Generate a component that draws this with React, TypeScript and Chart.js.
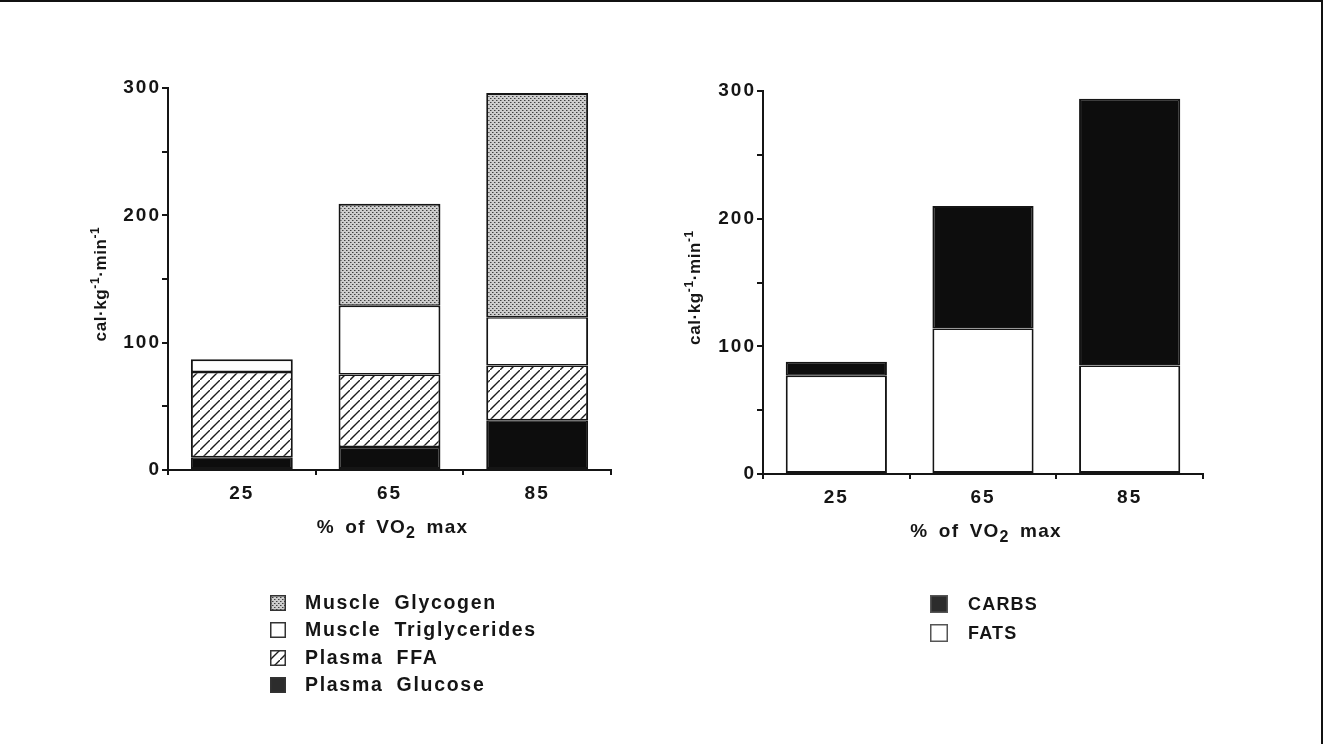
import React, { useEffect, useRef } from 'react';
import { Chart, registerables } from 'chart.js';

Chart.register(...registerables);

// ---------- data ----------
const categories = ['25', '65', '85'];
const plasmaGlucose = [10, 18, 39];
const plasmaFFA = [67, 57, 43];
const muscleTriglycerides = [10, 54, 38];
const muscleGlycogen = [0, 80, 176];
const fats = [77, 114, 85];
const carbs = [11, 96, 209];
const yTickLabels = [0, 100, 200, 300];
const leftLegend = ['Muscle Glycogen', 'Muscle Triglycerides', 'Plasma FFA', 'Plasma Glucose'];
const rightLegend = ['CARBS', 'FATS'];
const yTitleParts = ['cal·kg', '-1', '·min', '-1'];
const xTitleParts = ['% of VO', '2', ' max'];

const INK = '#151515';
const FONT = "'Liberation Sans', Arial, Helvetica, sans-serif";

// ---------- fills ----------
function makeDots(): CanvasPattern | string {
  const c = document.createElement('canvas');
  c.width = 4;
  c.height = 4;
  const x = c.getContext('2d');
  if (!x) return '#bbb';
  x.fillStyle = '#cdcdcd';
  x.fillRect(0, 0, 4, 4);
  x.fillStyle = '#404040';
  x.fillRect(0, 0, 1, 1);
  x.fillRect(2, 2, 1, 1);
  x.fillStyle = '#8a8a8a';
  x.fillRect(1, 0, 1, 1);
  x.fillRect(3, 2, 1, 1);
  return x.createPattern(c, 'repeat') || '#bbb';
}

function makeHatch(): CanvasPattern | string {
  const s = 10;
  const c = document.createElement('canvas');
  c.width = s;
  c.height = s;
  const x = c.getContext('2d');
  if (!x) return '#ddd';
  x.fillStyle = '#ffffff';
  x.fillRect(0, 0, s, s);
  x.strokeStyle = '#1c1c1c';
  x.lineWidth = 1.4;
  x.beginPath();
  x.moveTo(-2, s + 2);
  x.lineTo(s + 2, -2);
  x.moveTo(-2 - s, 2);
  x.lineTo(2, -2 - s + s);
  x.moveTo(s - 2, s + 2);
  x.lineTo(2 * s + 2, s - 2);
  x.stroke();
  return x.createPattern(c, 'repeat') || '#ddd';
}

type Fill = 'dots' | 'hatch' | 'black' | 'white';

function fillFor(kind: Fill): CanvasPattern | string {
  if (kind === 'dots') return makeDots();
  if (kind === 'hatch') return makeHatch();
  if (kind === 'black') return '#0d0d0d';
  return '#ffffff';
}

function borderFor(seriesList: number[][]) {
  return (ctx: any) => {
    const i = ctx.dataIndex;
    const d = ctx.datasetIndex;
    let topIdx = -1;
    for (let k = 0; k < seriesList.length; k++) if (seriesList[k][i] > 0) topIdx = k;
    const isTop = d === topIdx;
    const isBottom = d === 0;
    return { left: 2, right: 2, top: isTop ? 2 : 1.5, bottom: isBottom ? 2 : 1.5 };
  };
}

// ---------- text plugin ----------
function drawParts(
  ctx: CanvasRenderingContext2D,
  parts: { text: string; font: string; dy: number }[],
  cx: number,
  cy: number,
  rotate: boolean,
  spacing: string,
  wordSpacing: string
) {
  ctx.save();
  (ctx as any).letterSpacing = spacing;
  (ctx as any).wordSpacing = wordSpacing;
  ctx.translate(cx, cy);
  if (rotate) ctx.rotate(-Math.PI / 2);
  let total = 0;
  for (const p of parts) {
    ctx.font = p.font;
    total += ctx.measureText(p.text).width;
  }
  let x = -total / 2;
  ctx.textAlign = 'left';
  ctx.textBaseline = 'middle';
  ctx.fillStyle = INK;
  for (const p of parts) {
    ctx.font = p.font;
    ctx.fillText(p.text, x, p.dy);
    x += ctx.measureText(p.text).width;
  }
  ctx.restore();
}

function titlePlugin(yOffsetX: number, yShift: number, xShift: number, xTitleDy: number) {
  return {
    id: 'axisTitles',
    beforeDraw(chart: any) {
      (chart.ctx as any).letterSpacing = '2px';
    },
    afterDraw(chart: any) {
      const ctx = chart.ctx as CanvasRenderingContext2D;
      const a = chart.chartArea;
      const yParts = [
        { text: yTitleParts[0], font: `bold 17px ${FONT}`, dy: 0 },
        { text: yTitleParts[1], font: `bold 12px ${FONT}`, dy: -5 },
        { text: yTitleParts[2], font: `bold 17px ${FONT}`, dy: 0 },
        { text: yTitleParts[3], font: `bold 12px ${FONT}`, dy: -5 },
      ];
      drawParts(ctx, yParts, a.left - yOffsetX, (a.top + a.bottom) / 2 + yShift, true, '0.6px', '0px');
      const xParts = [
        { text: xTitleParts[0], font: `bold 19px ${FONT}`, dy: 0 },
        { text: xTitleParts[1], font: `bold 16px ${FONT}`, dy: 6 },
        { text: xTitleParts[2], font: `bold 19px ${FONT}`, dy: 0 },
      ];
      drawParts(ctx, xParts, (a.left + a.right) / 2 + xShift, a.bottom + xTitleDy, false, '1.2px', '4px');
      (ctx as any).letterSpacing = '0px';
    },
  };
}

// ---------- chart panel ----------
type Series = { label: string; data: number[]; fill: Fill };

function Panel(props: {
  left: number;
  width: number;
  series: Series[];
  padding: { top: number; left: number; right: number; bottom: number };
  yWidth: number;
  yOffsetX: number;
  yShift: number;
  xShift: number;
  xTitleDy: number;
}) {
  const ref = useRef<HTMLCanvasElement | null>(null);
  useEffect(() => {
    if (!ref.current) return;
    const seriesData = props.series.map((s) => s.data);
    const border = borderFor(seriesData);
    const tickFont = { family: FONT, size: 19, weight: 'bold' as const };
    const chart = new Chart(ref.current, {
      type: 'bar',
      data: {
        labels: categories,
        datasets: props.series.map((s) => ({
          label: s.label,
          data: s.data,
          backgroundColor: fillFor(s.fill) as any,
          borderColor: INK,
          borderWidth: border as any,
          borderSkipped: false,
          barPercentage: 0.69,
          categoryPercentage: 1,
        })),
      },
      options: {
        animation: false,
        responsive: false,
        devicePixelRatio: 1,
        layout: { padding: props.padding },
        plugins: { legend: { display: false }, tooltip: { enabled: false } },
        scales: {
          x: {
            stacked: true,
            grid: {
              display: true,
              drawOnChartArea: false,
              drawTicks: true,
              tickLength: 5,
              offset: true,
              color: INK,
              lineWidth: 2,
            },
            border: { display: true, color: INK, width: 2 },
            ticks: { color: INK, font: tickFont, padding: 7 },
            afterFit: (s: any) => {
              s.height = 30;
            },
          },
          y: {
            stacked: true,
            min: 0,
            max: 300,
            grid: {
              display: true,
              drawOnChartArea: false,
              drawTicks: true,
              tickLength: 6,
              color: INK,
              lineWidth: 2,
            },
            border: { display: true, color: INK, width: 2 },
            ticks: {
              stepSize: 50,
              color: INK,
              font: tickFont,
              padding: 1,
              callback: (v: any) => (yTickLabels.includes(Number(v)) ? String(v) : ''),
            },
            afterFit: (s: any) => {
              s.width = props.yWidth;
            },
          },
        },
      },
      plugins: [titlePlugin(props.yOffsetX, props.yShift, props.xShift, props.xTitleDy)],
    });
    return () => chart.destroy();
  }, []);
  return (
    <canvas
      ref={ref}
      width={props.width}
      height={744}
      style={{ position: 'absolute', left: props.left, top: 0, width: props.width, height: 744 }}
    />
  );
}

// ---------- legend ----------
function Swatch(props: { fill: Fill; size: number; stroke: string }) {
  const ref = useRef<HTMLCanvasElement | null>(null);
  useEffect(() => {
    const c = ref.current;
    if (!c) return;
    const x = c.getContext('2d');
    if (!x) return;
    const s = props.size;
    x.clearRect(0, 0, s, s);
    x.fillStyle = props.fill === 'black' ? '#2c2c2c' : (fillFor(props.fill) as any);
    x.fillRect(0, 0, s, s);
    x.strokeStyle = props.stroke;
    x.lineWidth = 1.5;
    x.strokeRect(0.75, 0.75, s - 1.5, s - 1.5);
  }, []);
  return <canvas ref={ref} width={props.size} height={props.size} style={{ display: 'block' }} />;
}

function Legend(props: {
  left: number;
  top: number;
  items: string[];
  fills: Fill[];
  rowH: number;
  size: number;
  textLeft: number;
  font: React.CSSProperties;
  stroke: string;
}) {
  return (
    <div style={{ position: 'absolute', left: props.left, top: props.top }}>
      {props.items.map((t, i) => (
        <div
          key={t}
          style={{ position: 'absolute', left: 0, top: i * props.rowH, height: props.size, width: 400 }}
        >
          <div style={{ position: 'absolute', left: 0, top: 0 }}>
            <Swatch fill={props.fills[i]} size={props.size} stroke={props.stroke} />
          </div>
          <div
            style={{
              position: 'absolute',
              left: props.textLeft,
              top: props.size / 2,
              transform: 'translateY(-50%)',
              whiteSpace: 'pre',
              color: INK,
              lineHeight: 1,
              ...props.font,
            }}
          >
            {t}
          </div>
        </div>
      ))}
    </div>
  );
}

export default function App() {
  const leftSeries: Series[] = [
    { label: 'Plasma Glucose', data: plasmaGlucose, fill: 'black' },
    { label: 'Plasma FFA', data: plasmaFFA, fill: 'hatch' },
    { label: 'Muscle Triglycerides', data: muscleTriglycerides, fill: 'white' },
    { label: 'Muscle Glycogen', data: muscleGlycogen, fill: 'dots' },
  ];
  const rightSeries: Series[] = [
    { label: 'FATS', data: fats, fill: 'white' },
    { label: 'CARBS', data: carbs, fill: 'black' },
  ];
  return (
    <div
      style={{
        position: 'absolute',
        left: 0,
        top: 0,
        width: 1323,
        height: 744,
        background: '#fff',
        overflow: 'hidden',
        fontFamily: FONT,
      }}
    >
      <Panel
        left={0}
        width={661}
        series={leftSeries}
        padding={{ top: 88, left: 0, right: 50, bottom: 244 }}
        yWidth={168}
        yOffsetX={67}
        yShift={5}
        xShift={3}
        xTitleDy={58}
      />
      <Panel
        left={661}
        width={662}
        series={rightSeries}
        padding={{ top: 91, left: 0, right: 120, bottom: 240 }}
        yWidth={102}
        yOffsetX={68}
        yShift={5}
        xShift={3}
        xTitleDy={58}
      />
      <Legend
        left={270}
        top={595}
        items={leftLegend}
        fills={['dots', 'white', 'hatch', 'black']}
        rowH={27.3}
        size={16}
        textLeft={35}
        stroke="#333"
        font={{ fontWeight: 'bold', fontSize: 19.5, letterSpacing: '1.7px', wordSpacing: '6px' }}
      />
      <Legend
        left={930}
        top={595}
        items={rightLegend}
        fills={['black', 'white']}
        rowH={29}
        size={18}
        textLeft={38}
        stroke="#555"
        font={{ fontWeight: 'bold', fontSize: 18, letterSpacing: '1.2px' }}
      />
      <div
        style={{
          position: 'absolute',
          left: 0,
          top: 0,
          width: 1323,
          height: 744,
          boxSizing: 'border-box',
          borderTop: '2px solid #111',
          borderRight: '2px solid #111',
          pointerEvents: 'none',
        }}
      />
    </div>
  );
}
